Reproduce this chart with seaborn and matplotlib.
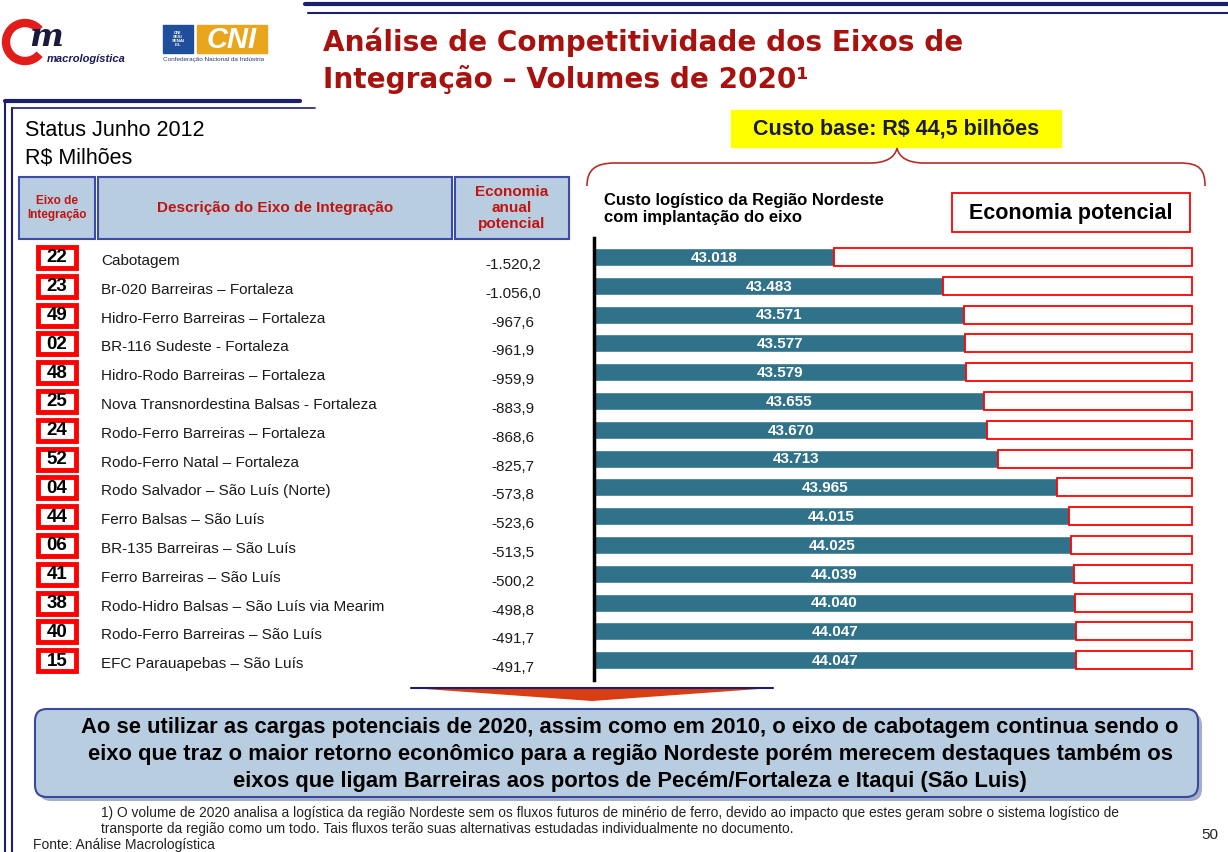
import numpy as np
import pandas as pd
import seaborn as sns
import matplotlib.pyplot as plt
from matplotlib.patches import Rectangle, FancyBboxPatch, Polygon, PathPatch, Arc
from matplotlib.path import Path

# ---- data ----
eixos = ["22", "23", "49", "02", "48", "25", "24", "52", "04", "44", "06", "41", "38", "40", "15"]
descricoes = ["Cabotagem", "Br-020 Barreiras – Fortaleza", "Hidro-Ferro Barreiras – Fortaleza",
              "BR-116 Sudeste - Fortaleza", "Hidro-Rodo Barreiras – Fortaleza",
              "Nova Transnordestina Balsas - Fortaleza", "Rodo-Ferro Barreiras – Fortaleza",
              "Rodo-Ferro Natal – Fortaleza", "Rodo Salvador – São Luís (Norte)",
              "Ferro Balsas – São Luís", "BR-135 Barreiras – São Luís", "Ferro Barreiras – São Luís",
              "Rodo-Hidro Balsas – São Luís via Mearim", "Rodo-Ferro Barreiras – São Luís",
              "EFC Parauapebas – São Luís"]
economia = [-1520.2, -1056.0, -967.6, -961.9, -959.9, -883.9, -868.6, -825.7,
            -573.8, -523.6, -513.5, -500.2, -498.8, -491.7, -491.7]
custo = [43018, 43483, 43571, 43577, 43579, 43655, 43670, 43713,
         43965, 44015, 44025, 44039, 44040, 44047, 44047]

df = pd.DataFrame({"eixo": eixos, "desc": descricoes, "economia": economia, "custo": custo})

def br(v, dec):
    s = f"{v:,.{dec}f}"
    return s.replace(",", "X").replace(".", ",").replace("X", ".")

sns.set_theme(style="white")
plt.rcParams['font.family'] = ['Liberation Sans', 'DejaVu Sans']

W, H = 1228, 852
fig = plt.figure(figsize=(W / 100, H / 100), dpi=100)

# overlay in pixel coords for the slide decoration and table
bg = fig.add_axes([0, 0, 1, 1], zorder=0)
bg.set_xlim(0, W)
bg.set_ylim(H, 0)
bg.axis("off")

navy = "#1B1F6E"
darkred = "#A8120E"
hdr_red = "#C0140F"
hdr_blue = "#B9CDE1"
hdr_edge = "#3D4BA6"

# frame lines
bg.plot([305, W], [4, 4], color=navy, lw=3)
bg.plot([308, W], [13, 13], color=navy, lw=1.5)
bg.plot([5, 300], [101, 101], color=navy, lw=3)
bg.plot([12, 315], [108, 108], color=navy, lw=1.2)
bg.plot([5, 5], [101, H], color=navy, lw=1.5)
bg.plot([12, 12], [108, H], color=navy, lw=1.5)

# logos (approximate)
bg.add_patch(Arc((25, 42), 38, 38, theta1=40, theta2=320, color="#E21B1B", lw=6))
bg.text(29, 37, "m", fontsize=23, fontweight="bold", style="italic", color="#1A1A40",
        ha="left", va="center", family="DejaVu Serif")
bg.text(47, 59, "macrologística", fontsize=8, fontweight="bold", style="italic", color="#1A1A5A",
        ha="left", va="center")
bg.add_patch(Rectangle((163, 25), 30, 28, color="#1F4E9A"))
bg.text(178, 39, "CNI\nSESI\nSENAI\nIEL", fontsize=3.2, color="white", ha="center", va="center",
        fontweight="bold", linespacing=1.0)
bg.add_patch(Rectangle((197, 25), 70, 28, color="#E9A61C"))
bg.text(232, 40, "CNI", fontsize=21, color="white", fontweight="bold", style="italic",
        ha="center", va="center")
bg.text(163, 59, "Confederação Nacional da Indústria", fontsize=4.6, color="#2B3A70",
        ha="left", va="center")

# title
bg.text(323, 42, "Análise de Competitividade dos Eixos de", fontsize=20.1, fontweight="bold",
        color=darkred, ha="left", va="center", family="DejaVu Sans")
bg.text(323, 79, "Integração – Volumes de 2020¹", fontsize=20.1, fontweight="bold",
        color=darkred, ha="left", va="center", family="DejaVu Sans")

bg.text(25, 131, "Status Junho 2012", fontsize=15.5, ha="left", va="center", color="black")
bg.text(25, 158, "R$ Milhões", fontsize=15.5, ha="left", va="center", color="black")

# table header
for x0, x1, txt, fs in [(19, 95, "Eixo de\nIntegração", 8.5),
                        (98, 452, "Descrição do Eixo de Integração", 11),
                        (455, 569, "Economia\nanual\npotencial", 11)]:
    bg.add_patch(Rectangle((x0, 177), x1 - x0, 62, facecolor=hdr_blue, edgecolor=hdr_edge, lw=1.5))
    bg.text((x0 + x1) / 2, 208, txt, fontsize=fs, color=hdr_red, ha="center", va="center",
            fontweight="bold", linespacing=1.15)

# table rows
row0, step = 257, 28.8
for i, r in df.iterrows():
    yc = row0 + i * step
    bg.add_patch(Rectangle((38, yc - 10), 38, 21, facecolor="white", edgecolor="#FF0000", lw=3.5))
    bg.text(57, yc + 1, r["eixo"], fontsize=13.5, fontweight="bold", ha="center", va="center",
            color="black")
    bg.text(101, yc + 4, r["desc"], fontsize=11, ha="left", va="center", color="#1A1A1A")
    bg.text(513, yc + 8, br(r["economia"], 1), fontsize=11, ha="center", va="center", color="#1A1A1A")

# yellow box + brace
bg.add_patch(Rectangle((731, 110), 330, 37, color="#FFFF00"))
bg.text(896, 129, "Custo base: R$ 44,5 bilhões", fontsize=15.5, fontweight="bold",
        color="#1A1A3A", ha="center", va="center")
verts = [(587, 186), (587, 170), (595, 163), (615, 163), (870, 163),
         (885, 163), (895, 158), (897, 148), (899, 158), (909, 163), (924, 163),
         (1180, 163), (1200, 163), (1205, 170), (1205, 186)]
codes = [Path.MOVETO, Path.CURVE4, Path.CURVE4, Path.CURVE4, Path.LINETO,
         Path.CURVE4, Path.CURVE4, Path.CURVE4, Path.CURVE4, Path.CURVE4, Path.CURVE4,
         Path.LINETO, Path.CURVE4, Path.CURVE4, Path.CURVE4]
bg.add_patch(PathPatch(Path(verts, codes), facecolor="none", edgecolor="#B3302A", lw=1.2))

bg.text(604, 209, "Custo logístico da Região Nordeste\ncom implantação do eixo", fontsize=12,
        fontweight="bold", ha="left", va="center", color="black", linespacing=1.2)
bg.add_patch(Rectangle((952, 193), 238, 39, facecolor="white", edgecolor="#FF0000", lw=1.3))
bg.text(1071, 213, "Economia potencial", fontsize=15.5, fontweight="bold", ha="center",
        va="center", color="black")

# arrow
bg.add_patch(Polygon([(411, 688), (773, 688), (592, 701)], closed=True, facecolor="#D73E14",
                     edgecolor="none"))
bg.plot([411, 773], [688, 688], color=navy, lw=1.5)

# conclusion box
bg.add_patch(FancyBboxPatch((39, 713), 1163, 88, boxstyle="round,pad=0,rounding_size=12",
                            facecolor="#6E78A8", edgecolor="none", alpha=0.6))
bg.add_patch(FancyBboxPatch((35, 709), 1163, 88, boxstyle="round,pad=0,rounding_size=12",
                            facecolor=hdr_blue, edgecolor="#3A4A9A", lw=1.5))
conc = ["Ao se utilizar as cargas potenciais de 2020, assim como em 2010, o eixo de cabotagem continua sendo o",
        "eixo que traz o maior retorno econômico para a região Nordeste porém merecem destaques também os",
        "eixos que ligam Barreiras aos portos de Pecém/Fortaleza e Itaqui (São Luis)"]
for k, line in enumerate(conc):
    bg.text(630, 728 + k * 26.5, line, fontsize=15.8, fontweight="bold", ha="center", va="center",
            color="black")

bg.text(101, 813, "1) O volume de 2020 analisa a logística da região Nordeste sem os fluxos futuros de minério "
        "de ferro, devido ao impacto que estes geram sobre o sistema logístico de", fontsize=9.9,
        ha="left", va="center", color="#222222")
bg.text(101, 829, "transporte da região como um todo. Tais fluxos terão suas alternativas estudadas "
        "individualmente no documento.", fontsize=9.9, ha="left", va="center", color="#222222")
bg.text(33, 845, "Fonte: Análise Macrologística", fontsize=10, ha="left", va="center", color="#222222")
bg.text(1210, 835, "50", fontsize=11, ha="center", va="center", color="#222222")

# ---- bar chart ----
top_px, bot_px, left_px, right_px = 238, 680, 594, 1192
ax = fig.add_axes([left_px / W, 1 - bot_px / H, (right_px - left_px) / W, (bot_px - top_px) / H], zorder=2)
ax.patch.set_alpha(0)
sns.barplot(data=df, x="custo", y="eixo", orient="h", color="#31728B", width=0.63,
            saturation=1, ax=ax)
ax.barh(np.arange(len(df)), -df["economia"], left=df["custo"], height=0.63,
        facecolor="white", edgecolor="#FF0000", lw=1.3, clip_on=False)
xmin = 42000
ax.set_xlim(xmin, 44538.5)
ax.set_ylim(len(df) - 1 + (bot_px - (row0 + 14 * step)) / step, -(row0 - top_px) / step)
for i, v in enumerate(df["custo"]):
    ax.text((xmin + v) / 2, i + 0.03, br(v, 0), color="white", fontsize=11, fontweight="bold",
            ha="center", va="center")
ax.set_xlabel("")
ax.set_ylabel("")
ax.set_xticks([])
ax.set_yticks([])
for s in ["top", "right", "bottom"]:
    ax.spines[s].set_visible(False)
ax.spines["left"].set_color("black")
ax.spines["left"].set_linewidth(2.5)

fig.savefig("out.png", dpi=100)
